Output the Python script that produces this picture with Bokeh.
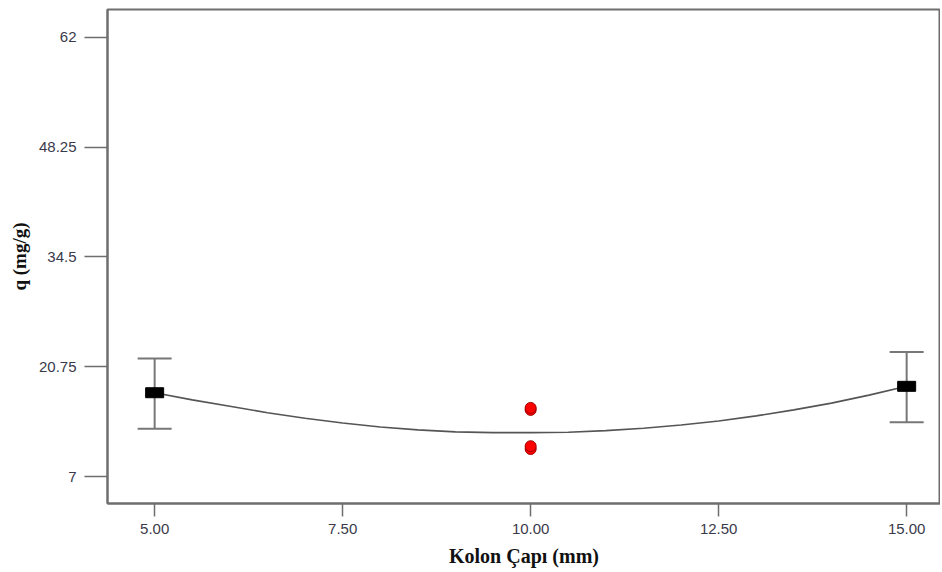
from bokeh.plotting import figure
from bokeh.models import ColumnDataSource, Whisker, TeeHead, FixedTicker, Range1d
from bokeh.embed import file_html
from bokeh.resources import INLINE

# ---- data ----
factor_x = [5.0, 15.0]
factor_q = [17.5, 18.3]
err_low = [13.0, 13.8]
err_high = [21.8, 22.6]

center_x = [10.0, 10.0, 10.0, 10.0]
center_q = [15.35, 15.6, 10.45, 10.8]

curve_x = [5, 5.5, 6, 6.5, 7, 7.5, 8, 8.5, 9, 9.5, 10, 10.5, 11, 11.5, 12, 12.5, 13, 13.5, 14, 14.5, 15]
curve_q = [17.5, 16.6, 15.8, 15.0, 14.3, 13.7, 13.2, 12.85, 12.6, 12.5, 12.5, 12.55, 12.75, 13.05,
           13.45, 13.95, 14.6, 15.35, 16.2, 17.2, 18.3]

x_ticks = [5.0, 7.5, 10.0, 12.5, 15.0]
x_tick_labels = ["5.00", "7.50", "10.00", "12.50", "15.00"]
y_ticks = [7, 20.75, 34.5, 48.25, 62]
y_tick_labels = ["7", "20.75", "34.5", "48.25", "62"]

x_title = "Kolon Çapı (mm)"
y_title = "q (mg/g)"

AX = "#6e6e6e"

p = figure(width=940, height=570, output_backend="svg", toolbar_location=None,
           x_range=Range1d(4.373, 15.45), y_range=Range1d(3.625, 65.5))
p.min_border_left = 107
p.min_border_top = 9
p.min_border_right = 0
p.min_border_bottom = 67
p.outline_line_color = AX
p.outline_line_width = 2
p.xgrid.visible = False
p.ygrid.visible = False
p.background_fill_color = "white"
p.border_fill_color = "white"

# curve
p.line(curve_x, curve_q, line_color="#555555", line_width=1.6)

# error bars
src = ColumnDataSource(dict(x=factor_x, q=factor_q, lo=err_low, hi=err_high))
wh = Whisker(base="x", upper="hi", lower="lo", source=src, line_color="#777777", line_width=2,
             upper_head=TeeHead(size=34, line_color="#777777", line_width=2),
             lower_head=TeeHead(size=34, line_color="#777777", line_width=2))
p.add_layout(wh)

# factor points (black rectangles)
p.rect(x="x", y="q", width=18, height=10, width_units="screen", height_units="screen",
       source=src, fill_color="black", line_color="black")

# center points
p.scatter(center_x, center_q, marker="circle", size=11, fill_color="#ff0000",
          line_color="#a00000", line_width=1)

for ax in (p.xaxis[0], p.yaxis[0]):
    ax.axis_line_color = AX
    ax.axis_line_width = 2
    ax.major_tick_line_color = AX
    ax.major_tick_line_width = 1.5
    ax.minor_tick_line_color = None
    ax.major_tick_in = 0
    ax.major_label_text_font = "Liberation Sans"
    ax.major_label_text_font_size = "15px"
    ax.major_label_text_color = "#3a3a4a"
    ax.axis_label_text_font = "Liberation Serif"
    ax.axis_label_text_font_style = "bold"
    ax.axis_label_text_font_size = "20px"
    ax.axis_label_text_color = "#111111"

p.xaxis.ticker = FixedTicker(ticks=x_ticks)
p.xaxis.major_label_overrides = {t: l for t, l in zip(x_ticks, x_tick_labels)}
p.xaxis.major_tick_out = 13
p.xaxis.major_label_standoff = 7
p.xaxis.axis_label = x_title
p.xaxis.axis_label_standoff = 8

p.yaxis.ticker = FixedTicker(ticks=y_ticks)
p.yaxis.major_label_overrides = {t: l for t, l in zip(y_ticks, y_tick_labels)}
p.yaxis.major_tick_out = 23
p.yaxis.major_label_standoff = 8
p.yaxis.axis_label = y_title
p.yaxis.axis_label_text_font_size = "19px"
p.yaxis.axis_label_standoff = 6

open("out.html", "w").write(file_html(p, INLINE))
